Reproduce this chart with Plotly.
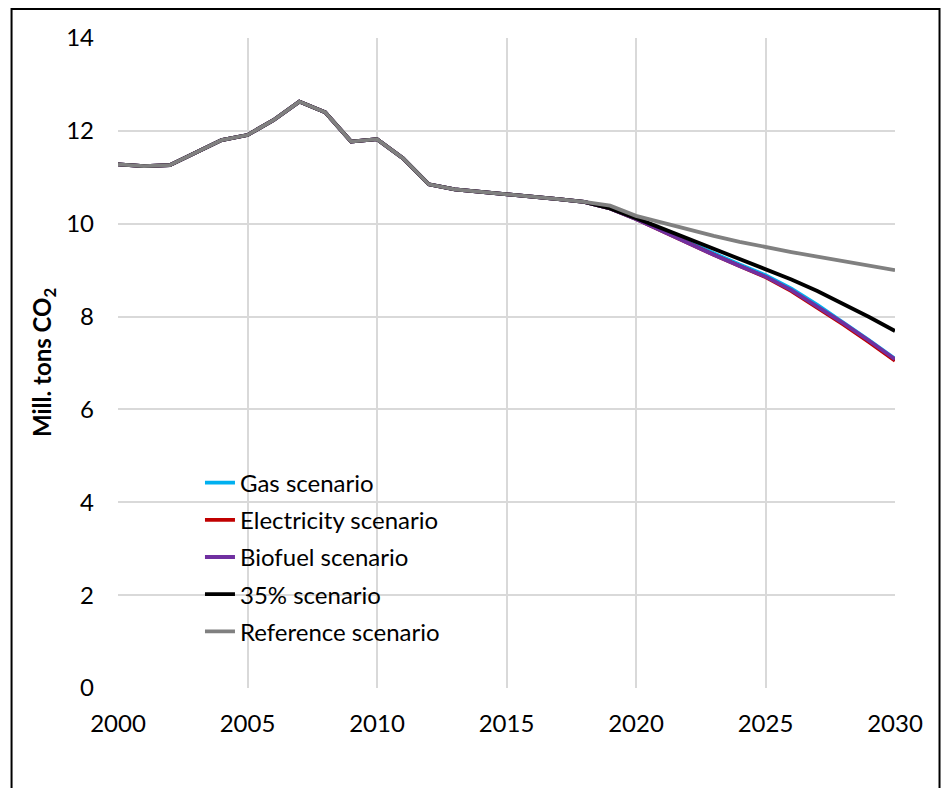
import plotly.graph_objects as go

years = list(range(2000, 2031))

# historic emissions (shared by all scenarios up to 2018)
history = [11.28, 11.24, 11.26, 11.53, 11.80, 11.91, 12.23, 12.63, 12.40, 11.77,
           11.82, 11.41, 10.85, 10.74, 10.69, 10.65, 10.60, 10.53, 10.47]

reference_future = [10.39, 10.17, 10.02, 9.88, 9.74, 9.61, 9.49, 9.39, 9.29, 9.19, 9.10, 9.00]
pct35_future = [10.33, 10.12, 9.90, 9.68, 9.46, 9.24, 9.02, 8.80, 8.55, 8.28, 7.99, 7.69]
gas_future = [10.33, 10.10, 9.85, 9.60, 9.36, 9.12, 8.89, 8.60, 8.25, 7.88, 7.49, 7.09]
electricity_future = [10.33, 10.10, 9.84, 9.58, 9.33, 9.09, 8.85, 8.55, 8.20, 7.83, 7.45, 7.05]
biofuel_future = [10.33, 10.10, 9.84, 9.58, 9.33, 9.09, 8.86, 8.57, 8.22, 7.86, 7.48, 7.08]

series = [
    ("Gas scenario", history + gas_future, "#00b0f0"),
    ("Electricity scenario", history + electricity_future, "#c00000"),
    ("Biofuel scenario", history + biofuel_future, "#7030a0"),
    ("35% scenario", history + pct35_future, "#000000"),
    ("Reference scenario", history + reference_future, "#808080"),
]

y_ticks = [0, 2, 4, 6, 8, 10, 12, 14]
x_ticks = [2000, 2005, 2010, 2015, 2020, 2025, 2030]

fig = go.Figure()
for name, vals, col in series:
    fig.add_trace(go.Scatter(x=years, y=vals, mode="lines", name=name,
                             legendgroup=name,
                             line=dict(color=col, width=3.8)))

font_name = "Lato"
# page body has an 8px margin; keep the figure inside the window (no scrollbars)
fig.update_layout(
    width=933, height=780,
    margin=dict(l=110, r=46, t=30, b=100),
    plot_bgcolor="white", paper_bgcolor="white",
    font=dict(family=font_name, size=24, color="black"),
    showlegend=True,
    legend=dict(x=0.1055, y=0.35, xanchor="left", yanchor="top",
                bgcolor="rgba(0,0,0,0)", tracegroupgap=3,
                font=dict(size=24), traceorder="grouped"),
    xaxis=dict(range=[2000, 2030], tickvals=x_ticks, showgrid=True,
               gridcolor="#d9d9d9", gridwidth=1.5, zeroline=False,
               showline=False, ticks="", ticklabelstandoff=19),
    yaxis=dict(range=[0, 14], tickvals=y_ticks, showgrid=True,
               gridcolor="#d9d9d9", gridwidth=1.5, zeroline=False,
               showline=False, ticks="", ticklabelstandoff=23),
    annotations=[dict(text="<b>Mill. tons CO<sub>2</sub></b>", textangle=-90,
                      xref="paper", yref="paper", x=-0.0965, y=0.5,
                      xanchor="center", yanchor="middle",
                      showarrow=False, font=dict(size=24))],
    shapes=[dict(type="rect", xref="paper", yref="paper",
                 x0=-0.137, x1=1.0573, y0=-0.2, y1=1.0446,
                 line=dict(color="black", width=2))],
)

fig.write_html("out.html")
